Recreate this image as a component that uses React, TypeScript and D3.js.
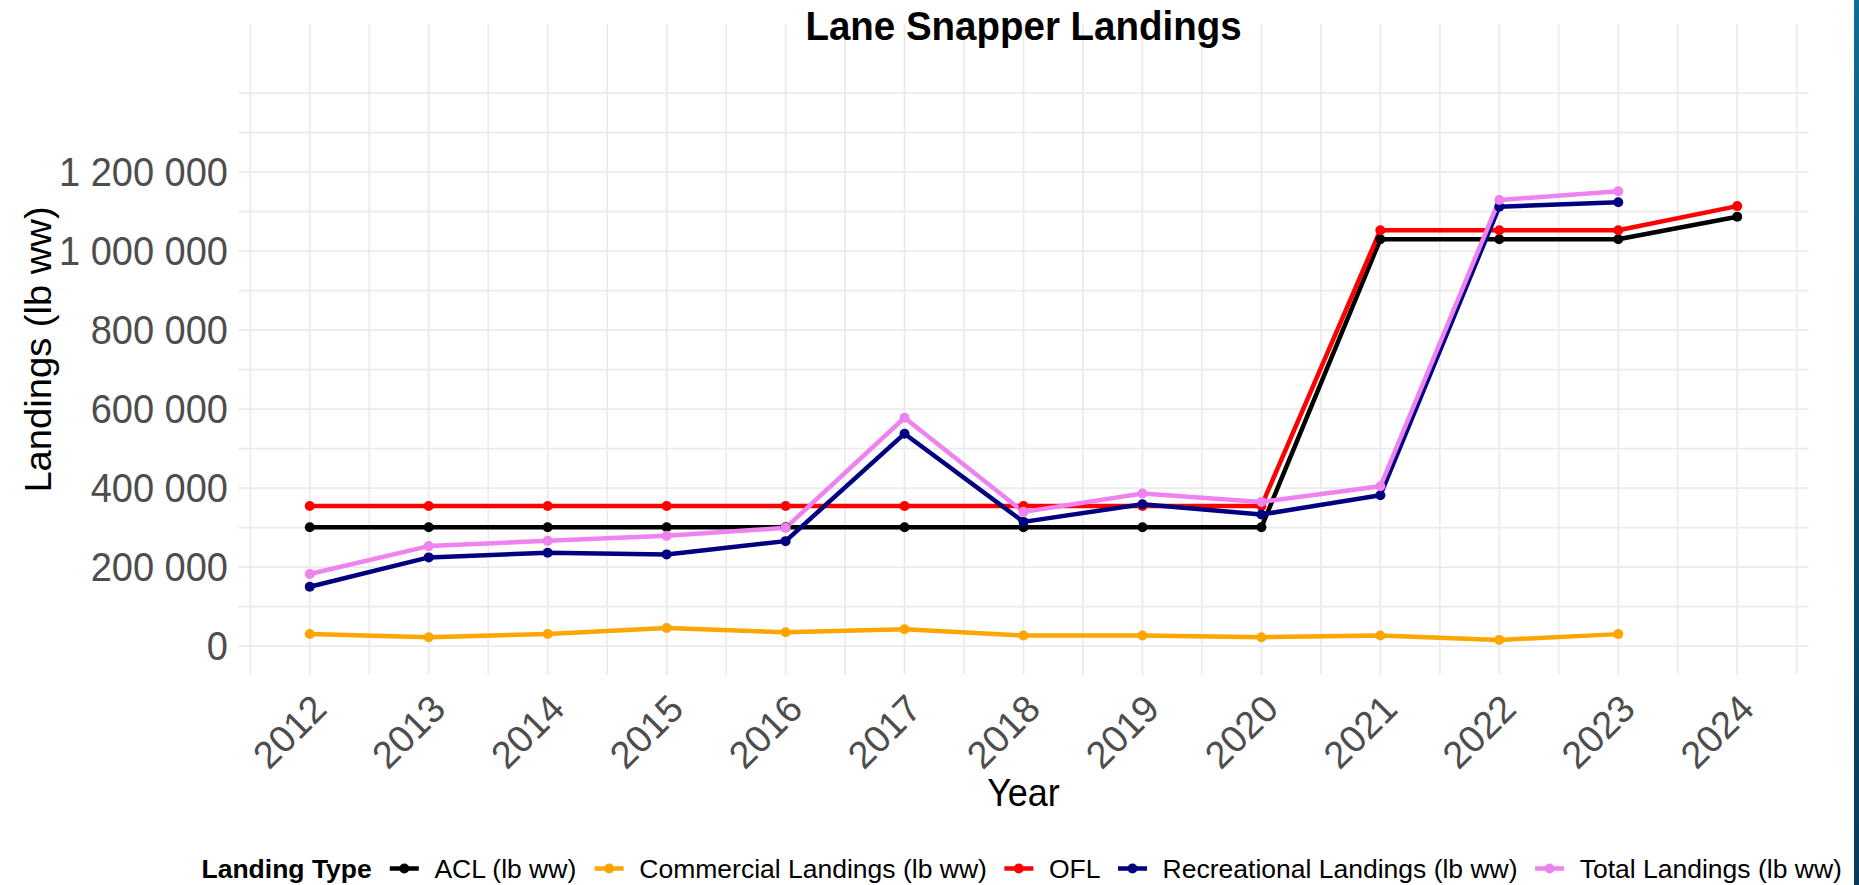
import React from "react";
import * as d3 from "d3";

// ---------- data ----------
const years = [2012, 2013, 2014, 2015, 2016, 2017, 2018, 2019, 2020, 2021, 2022, 2023, 2024];
const seriesNames = [
  "ACL (lb ww)",
  "Commercial Landings (lb ww)",
  "OFL",
  "Recreational Landings (lb ww)",
  "Total Landings (lb ww)",
];
const seriesColors = ["#000000", "#FFA500", "#FF0000", "#000080", "#EE82EE"];

const aclValues = [301000, 301000, 301000, 301000, 301000, 301000, 301000, 301000, 301000, 1030000, 1030000, 1030000, 1087000];
const commercialValues = [31000, 22700, 31000, 46000, 35300, 42900, 26800, 26800, 22700, 26800, 15900, 30500, null];
const oflValues = [355000, 355000, 355000, 355000, 355000, 355000, 355000, 355000, 355000, 1053000, 1053000, 1053000, 1114000];
const recreationalValues = [150500, 224700, 236400, 232300, 265900, 537900, 314600, 359300, 333300, 382100, 1112600, 1123700, null];
const totalValues = [182600, 253300, 266700, 279300, 299500, 578300, 340000, 386400, 365200, 404800, 1129500, 1151500, null];

const seriesValues = [aclValues, commercialValues, oflValues, recreationalValues, totalValues];

const yTickValues = [0, 200000, 400000, 600000, 800000, 1000000, 1200000];
const yMinorValues = [100000, 300000, 500000, 700000, 900000, 1100000, 1300000, 1400000];

const titleText = "Lane Snapper Landings";
const xTitle = "Year";
const yTitle = "Landings (lb ww)";
const legendTitle = "Landing Type";

// ---------- layout ----------
const W = 1859;
const H = 885;
const FONT = "'Liberation Sans', Arial, Helvetica, sans-serif";
const panel = { left: 238.4, right: 1808.6, top: 24, bottom: 675 };

const fmt = d3.formatLocale({ decimal: ".", thousands: " ", grouping: [3], currency: ["", ""] }).format(",");

let _ctx: CanvasRenderingContext2D | null = null;
function measure(text: string, font: string): number {
  if (!_ctx) _ctx = document.createElement("canvas").getContext("2d");
  if (!_ctx) return text.length * 13;
  _ctx.font = font;
  return _ctx.measureText(text).width;
}

export default function App() {
  const x = d3.scaleLinear().domain([2011.4, 2024.6]).range([panel.left, panel.right]);
  const y = d3.scaleLinear().domain([-75000, 1575000]).range([675.8, 24]);

  const xGrid: number[] = [];
  years.forEach((yr) => {
    xGrid.push(yr - 0.5);
    xGrid.push(yr);
  });
  xGrid.push(years[years.length - 1] + 0.5);

  const line = d3
    .line<[number, number | null]>()
    .defined((d) => d[1] != null)
    .x((d) => x(d[0]))
    .y((d) => y(d[1] as number));

  const gridColor = "#EBEBEB";

  // legend layout
  const legendY = 868.5;
  const LF = 26.5;
  const legendFont = `${LF}px ${FONT}`;
  const legendTitleFont = `bold ${LF}px ${FONT}`;
  let lx = 201.5;
  const legendTitleX = lx;
  lx += measure(legendTitle, legendTitleFont) + 18;
  const legendItems = seriesNames.map((name, i) => {
    const keyX = lx;
    const textX = keyX + 29 + 15.6;
    const tw = measure(name, legendFont);
    lx = textX + tw + 17.5;
    return { name, color: seriesColors[i], keyX, textX };
  });

  return (
    <svg
      width={W}
      height={H}
      viewBox={`0 0 ${W} ${H}`}
      style={{ position: "fixed", left: 0, top: 0, background: "#fff" }}
      fontFamily={FONT}
    >
      <defs>
        <linearGradient id="edge" x1="0" y1="0" x2="0" y2="1">
          <stop offset="0" stopColor="#0f6e96" />
          <stop offset="0.35" stopColor="#0b5578" />
          <stop offset="1" stopColor="#083b5b" />
        </linearGradient>
      </defs>
      <rect x={0} y={0} width={W} height={H} fill="#ffffff" />
      <rect x={1854} y={0} width={5} height={H} fill="url(#edge)" />

      {/* grid */}
      <g>
        {yMinorValues.map((v) => (
          <line key={"ym" + v} x1={panel.left} x2={panel.right} y1={y(v)} y2={y(v)} stroke={gridColor} strokeWidth={1.6} />
        ))}
        {yTickValues.map((v) => (
          <line key={"yM" + v} x1={panel.left} x2={panel.right} y1={y(v)} y2={y(v)} stroke={gridColor} strokeWidth={1.8} />
        ))}
        {xGrid.map((v) => (
          <line key={"x" + v} x1={x(v)} x2={x(v)} y1={panel.top} y2={panel.bottom} stroke={gridColor} strokeWidth={Number.isInteger(v) ? 1.8 : 1.6} />
        ))}
      </g>

      {/* lines */}
      <g fill="none" strokeLinejoin="round" strokeLinecap="butt">
        {seriesValues.map((vals, i) => (
          <path
            key={"l" + i}
            d={line(years.map((yr, j) => [yr, vals[j]] as [number, number | null])) || ""}
            stroke={seriesColors[i]}
            strokeWidth={4.5}
          />
        ))}
      </g>
      {/* points */}
      <g>
        {seriesValues.map((vals, i) =>
          years.map((yr, j) =>
            vals[j] == null ? null : (
              <circle key={`p${i}-${j}`} cx={x(yr)} cy={y(vals[j] as number)} r={5} fill={seriesColors[i]} />
            )
          )
        )}
      </g>

      {/* y axis labels */}
      <g fill="#4D4D4D" fontSize={38} textAnchor="end">
        {yTickValues.map((v) => (
          <text key={"yt" + v} transform={`translate(228,${y(v) + 14.2}) scale(1,1.06)`}>
            {fmt(v)}
          </text>
        ))}
      </g>

      {/* x axis labels */}
      <g fill="#4D4D4D" fontSize={38} textAnchor="end">
        {years.map((yr) => (
          <text key={"xt" + yr} transform={`translate(${x(yr) + 19},711) rotate(-45)`}>
            {String(yr)}
          </text>
        ))}
      </g>

      {/* axis titles */}
      <text
        transform={`translate(${(panel.left + panel.right) / 2},806) scale(1,1.06)`}
        textAnchor="middle"
        fontSize={36}
        fill="#000"
      >
        {xTitle}
      </text>
      <text
        transform={`translate(50.7,${(panel.top + panel.bottom) / 2}) rotate(-90) scale(1.06,1)`}
        textAnchor="middle"
        fontSize={36}
        fill="#000"
      >
        {yTitle}
      </text>

      {/* title */}
      <text
        transform={`translate(${(panel.left + panel.right) / 2},39.5) scale(1,1.06)`}
        textAnchor="middle"
        fontSize={38.5}
        fontWeight="bold"
        fill="#000"
      >
        {titleText}
      </text>

      {/* legend */}
      <g>
        <text x={legendTitleX} y={legendY + 9.6} fontSize={LF} fontWeight="bold" fill="#000">
          {legendTitle}
        </text>
        {legendItems.map((it) => (
          <g key={"lg" + it.name}>
            <line x1={it.keyX} x2={it.keyX + 29} y1={legendY} y2={legendY} stroke={it.color} strokeWidth={4.5} />
            <circle cx={it.keyX + 14.5} cy={legendY} r={5} fill={it.color} />
            <text x={it.textX} y={legendY + 9.6} fontSize={LF} fill="#000">
              {it.name}
            </text>
          </g>
        ))}
      </g>
    </svg>
  );
}
